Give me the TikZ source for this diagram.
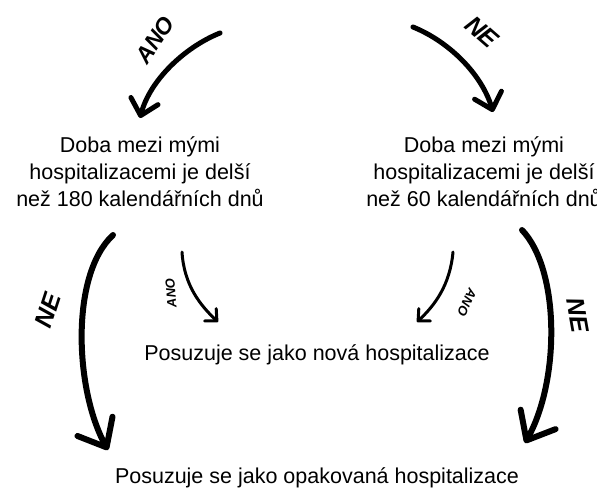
\documentclass[tikz,border=0pt]{standalone}
\usepackage{fontspec}
\setmainfont{Liberation Sans}
\usepackage{tikz}
\usetikzlibrary{arrows.meta}

\begin{document}
\begin{tikzpicture}[x=1pt, y=-1pt,
  txt/.style={inner sep=0pt, align=center, font=\fontsize{21.5pt}{27pt}\selectfont},
  tag/.style={inner sep=0pt, font=\bfseries\itshape\fontsize{#1}{#1}\selectfont},
  bigarrow/.style={line width=6pt, line cap=round, -{Straight Barb[round, length=24pt, width=40pt]}},
  toparrow/.style={line width=5pt, line cap=round, -{Straight Barb[round, length=15pt, width=28pt]}},
  smallarrow/.style={line width=3pt, line cap=round, -{Straight Barb[round, length=9pt, width=17pt]}}]%
\useasboundingbox (0,0) rectangle (597,488);%
\clip (0,0) rectangle (597,488);%
% texts
\node[txt] (cond180) at (140,172) {Doba mezi mými\\hospitalizacemi je delší\\než 180 kalendářních dnů};%
\node[txt] (cond60) at (484,172) {Doba mezi mými\\hospitalizacemi je delší\\než 60 kalendářních dnů};%
\node[txt, anchor=base] (nova) at (317,360) {Posuzuje se jako nová hospitalizace};%
\node[txt, anchor=base] (opak) at (317,483) {Posuzuje se jako opakovaná hospitalizace};%
% arrow ends
\coordinate (anoStart) at (220,33);%
\coordinate (anoEnd) at (140,118);%
\coordinate (neStart) at (413,27);%
\coordinate (neEnd) at (493,112);%
\coordinate (novaLStart) at (182,252);%
\coordinate (novaLEnd) at (218,322);%
\coordinate (novaRStart) at (453,252);%
\coordinate (novaREnd) at (417,322);%
\coordinate (opakLStart) at (113,235);%
\coordinate (opakLEnd) at (108,450);%
\coordinate (opakRStart) at (522,230);%
\coordinate (opakREnd) at (525,443);%
% arrows
\draw[toparrow] (anoStart) .. controls (185,47) and (150,80) .. (anoEnd);%
\draw[toparrow] (neStart) .. controls (450,42) and (482,75) .. (neEnd);%
\draw[smallarrow] (novaLStart) .. controls (184,285) and (200,305) .. (novaLEnd);%
\draw[smallarrow] (novaRStart) .. controls (450,285) and (435,305) .. (novaREnd);%
\draw[bigarrow] (opakLStart) .. controls (70,275) and (75,390) .. (opakLEnd);%
\draw[bigarrow] (opakRStart) .. controls (560,270) and (560,380) .. (opakREnd);%
% labels
\node[tag=23pt, rotate=56] (anoTop) at (155,40) {ANO};%
\node[tag=25pt, rotate=-41] (neTop) at (482,32) {NE};%
\node[tag=13pt, rotate=95] (anoL) at (171,293) {ANO};%
\node[tag=13pt, rotate=-115] (anoR) at (467,302) {ANO};%
\node[tag=25pt, rotate=72] (neL) at (48,310) {NE};%
\node[tag=25pt, rotate=-80] (neR) at (578,315) {NE};%
\end{tikzpicture}
\end{document}
